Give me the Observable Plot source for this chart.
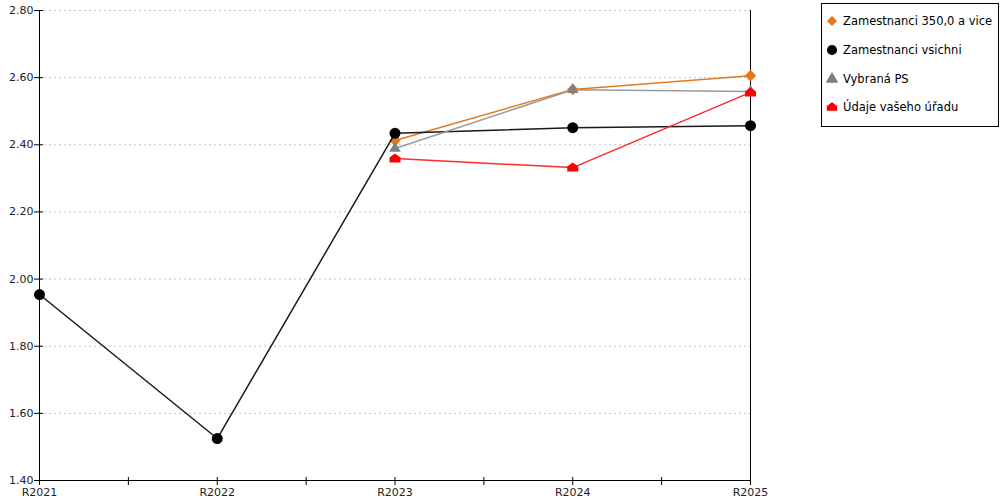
<!DOCTYPE html>
<html>
<head>
<meta charset="utf-8">
<script src="https://cdn.jsdelivr.net/npm/d3@7"></script>
<script src="https://cdn.jsdelivr.net/npm/@observablehq/plot@0.6"></script>
<style>
  body { margin: 0; background: #fff; font-family: "DejaVu Sans", sans-serif; }
  #wrap { position: relative; width: 1000px; height: 500px; }
  #legend {
    position: absolute; left: 821px; top: 3px; width: 176px; height: 122px;
    border: 1px solid #000; background: #fff; font-size: 11.5px; color: #000;
  }
  #legend .item { position: absolute; left: 2px; height: 16px; display: flex; align-items: center; }
  #legend svg { width: 16px; height: 16px; margin-right: 3px; }
</style>
</head>
<body>
<div id="wrap">
  <div id="chart"></div>
  <div id="legend"></div>
</div>
<script>
const years = [2021, 2022, 2023, 2024, 2025]
const yTicks = [1.4, 1.6, 1.8, 2.0, 2.2, 2.4, 2.6, 2.8]
const seriesNames = ["Zamestnanci 350,0 a vice", "Zamestnanci vsichni", "Vybraná PS", "Údaje vašeho úřadu"]
const velci = [null, null, 2.413, 2.565, 2.606]
const vsichni = [1.954, 1.525, 2.434, 2.451, 2.457]
const vybranaPS = [null, null, 2.389, 2.564, 2.559]
const vasUrad = [null, null, 2.359, 2.332, 2.556]

// styl serii
const lineColors = ["#e07a22", "#1a1a1a", "#9a9a9a", "#ff2a2a"]
const markColors = ["#e8771a", "#000000", "#808080", "#ff0000"]

// domecek pro "Údaje vašeho úřadu"
const house = {
  draw(context, size) {
    const s = Math.sqrt(size / Math.PI)
    const hw = s * 1.1
    context.moveTo(0, -s)
    context.lineTo(hw, -s * 0.2)
    context.lineTo(hw, s * 0.8)
    context.lineTo(-hw, s * 0.8)
    context.lineTo(-hw, -s * 0.2)
    context.closePath()
  }
}
const symbols = ["square", "circle", "triangle", house]
const radii = [4.6, 5.5, 4.3, 5]
const rotates = [45, 0, 0, 0]

const series = [velci, vsichni, vybranaPS, vasUrad].map((vals, i) =>
  years.map((y, j) => ({ year: y, value: vals[j], series: seriesNames[i] }))
    .filter(d => d.value != null)
)

const marks = [
  Plot.gridY(yTicks, { stroke: "#c4c4c4", strokeOpacity: 1, strokeDasharray: "2,3" }),
  Plot.ruleX([2021, 2025], { stroke: "#000" }),
  Plot.ruleY([1.4], { stroke: "#000" }),
  Plot.axisY(yTicks, { tickSize: 9, dx: 4, tickFormat: () => "", label: null }),
  Plot.axisY(yTicks, { tickSize: 0, tickPadding: 6, tickFormat: d3.format(".2f"), fontSize: 11, fill: "#222", label: null }),
  Plot.axisX(years, { tickSize: 8, dy: -3, tickFormat: () => "", label: null }),
  Plot.axisX(years.slice(1).map(y => y - 0.5), { tickSize: 8, dy: -3, tickFormat: () => "", label: null }),
  Plot.axisX(years, { tickSize: 0, tickPadding: 8, tickFormat: d => "R" + d, fontSize: 11, fill: "#222", label: null })
]
series.forEach((rows, i) => {
  marks.push(Plot.line(rows, { x: "year", y: "value", stroke: lineColors[i], strokeWidth: 1.5 }))
  marks.push(Plot.dot(rows, { x: "year", y: "value", symbol: symbols[i], r: radii[i], rotate: rotates[i], fill: markColors[i], stroke: "none" }))
})

const chart = Plot.plot({
  width: 1000,
  height: 500,
  marginLeft: 39,
  marginRight: 250,
  marginTop: 10,
  marginBottom: 20,
  style: { fontFamily: "DejaVu Sans", fontSize: "11px", overflow: "visible" },
  x: { type: "linear", domain: [2021, 2025], axis: null, label: null },
  y: { domain: [1.4, 2.8], axis: null, label: null },
  marks
})
d3.select('#chart').append(() => chart)

// legenda
const legend = d3.select('#legend')
const legendSymbols = [d3.symbolSquare, d3.symbolCircle, d3.symbolTriangle, house]
const legendSizes = [50, 80, 70, 70]
seriesNames.forEach((name, i) => {
  const item = legend.append('div').attr('class', 'item').style('top', (9 + i * 28.8) + 'px')
  item.append('svg').attr('viewBox', '-8 -8 16 16')
    .append('path')
    .attr('d', d3.symbol(legendSymbols[i], legendSizes[i])())
    .attr('transform', rotates[i] ? `rotate(${rotates[i]})` : null)
    .attr('fill', markColors[i])
  item.append('span').text(name)
})
</script>
</body>
</html>
